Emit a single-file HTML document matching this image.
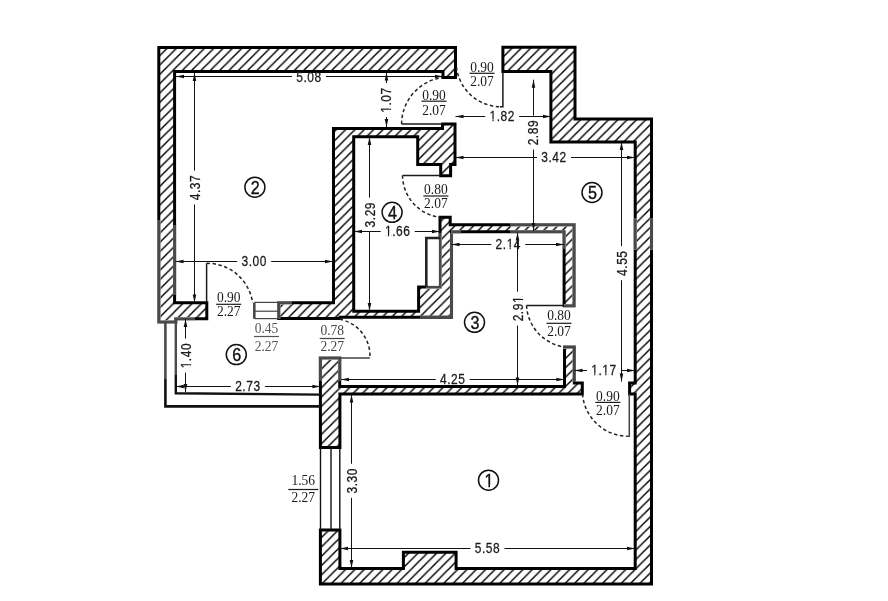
<!DOCTYPE html>
<html><head><meta charset="utf-8"><style>
html,body{margin:0;padding:0;background:#fff;width:888px;height:601px;overflow:hidden}
svg{display:block;will-change:transform}
</style></head><body>
<svg width="888" height="601" viewBox="0 0 888 601"><defs><pattern id="h0" patternUnits="userSpaceOnUse" x="0.6" y="0" width="9.34" height="9.34"><path d="M-2,2 L2,-2 M0,9.34 L9.34,0 M7.34,11.34 L11.34,7.34" stroke="#000" stroke-width="1.45"/></pattern><pattern id="h1" patternUnits="userSpaceOnUse" x="-0.27" y="0" width="9.34" height="9.34"><path d="M-2,2 L2,-2 M0,9.34 L9.34,0 M7.34,11.34 L11.34,7.34" stroke="#000" stroke-width="1.45"/></pattern><pattern id="h2" patternUnits="userSpaceOnUse" x="-1.1" y="0" width="9.34" height="9.34"><path d="M-2,2 L2,-2 M0,9.34 L9.34,0 M7.34,11.34 L11.34,7.34" stroke="#000" stroke-width="1.45"/></pattern><pattern id="h3" patternUnits="userSpaceOnUse" x="-0.7" y="0" width="9.34" height="9.34"><path d="M-2,2 L2,-2 M0,9.34 L9.34,0 M7.34,11.34 L11.34,7.34" stroke="#000" stroke-width="1.45"/></pattern></defs>
<path d="M158.8,47.5 L455.5,47.5 L455.5,77.5 L443,77.5 L443,71.5 L174.6,71.5 L174.6,302.8 L206.8,302.8 L206.8,318.7 L175.8,318.7 L175.8,322 L158.8,322 Z" fill="url(#h0)" stroke="#000" stroke-width="3.0" stroke-linejoin="miter"/>
<path d="M502.9,47.3 L575,47.3 L575,119 L651.5,119 L651.5,584 L320.4,584 L320.4,530 L339.9,530 L339.9,568.6 L403.4,568.6 L403.4,552.2 L456.1,552.2 L456.1,568.6 L635.2,568.6 L635.2,394 L629.6,394 L629.6,383 L635.2,383 L635.2,142 L550.9,142 L550.9,71.5 L502.9,71.5 Z" fill="url(#h1)" stroke="#000" stroke-width="3.0" stroke-linejoin="miter"/>
<path d="M278.7,302.8 L333.5,302.8 L333.5,128.4 L442.5,128.4 L442.5,124 L455,124 L455,164.5 L450.6,164.5 L450.6,175.8 L440.7,175.8 L440.7,164.5 L417.7,164.5 L417.7,136.7 L353.7,136.7 L353.7,311.3 L418.6,311.3 L418.6,287 L440,287 L440,217.2 L450.2,217.2 L450.2,224.8 L574.1,224.8 L574.1,305.7 L564.1,305.7 L564.1,231.8 L451.5,231.8 L451.5,317.3 L340,317.3 L340,318.4 L278.7,318.4 Z" fill="url(#h2)" stroke="#000" stroke-width="3.0" stroke-linejoin="miter"/>
<path d="M320.4,358 L339.7,358 L339.7,386.5 L564.5,386.5 L564.5,347 L574.3,347 L574.3,383 L582.3,383 L582.3,394 L339.9,394 L339.9,447.5 L320.4,447.5 Z" fill="url(#h3)" stroke="#000" stroke-width="3.0" stroke-linejoin="miter"/>
<path d="M158.8,220 L158.8,322 L175.8,322 L175.8,318.7 L195,318.7" fill="none" stroke="#fff" stroke-width="3.3" stroke-linecap="butt"/>
<path d="M158.8,220 L158.8,322 L175.8,322 L175.8,318.7 L195,318.7" fill="none" stroke="#4a4a4a" stroke-width="3.0999999999999996" stroke-linecap="butt"/>
<path d="M174.6,225 L174.6,295" fill="none" stroke="#fff" stroke-width="3.3" stroke-linecap="butt"/>
<path d="M174.6,225 L174.6,295" fill="none" stroke="#4a4a4a" stroke-width="3.0999999999999996" stroke-linecap="butt"/>
<path d="M635.2,218.6 L635.2,249.5" fill="none" stroke="#fff" stroke-width="3.3" stroke-linecap="butt"/>
<path d="M635.2,218.6 L635.2,249.5" fill="none" stroke="#4a4a4a" stroke-width="3.0999999999999996" stroke-linecap="butt"/>
<path d="M651.5,218.6 L651.5,249.5" fill="none" stroke="#fff" stroke-width="3.3" stroke-linecap="butt"/>
<path d="M651.5,218.6 L651.5,249.5" fill="none" stroke="#4a4a4a" stroke-width="3.0999999999999996" stroke-linecap="butt"/>
<path d="M440,233 L440,287 L426.3,287" fill="none" stroke="#fff" stroke-width="3.3" stroke-linecap="butt"/>
<path d="M440,233 L440,287 L426.3,287" fill="none" stroke="#4a4a4a" stroke-width="3.0999999999999996" stroke-linecap="butt"/>
<path d="M451.5,233 L451.5,317.4 L420,317.4" fill="none" stroke="#fff" stroke-width="3.3" stroke-linecap="butt"/>
<path d="M451.5,233 L451.5,317.4 L420,317.4" fill="none" stroke="#4a4a4a" stroke-width="3.0999999999999996" stroke-linecap="butt"/>
<path d="M510,224.8 L574.1,224.8 L574.1,305.7 L564.1,305.7" fill="none" stroke="#fff" stroke-width="3.3" stroke-linecap="butt"/>
<path d="M510,224.8 L574.1,224.8 L574.1,305.7 L564.1,305.7" fill="none" stroke="#4a4a4a" stroke-width="3.0999999999999996" stroke-linecap="butt"/>
<path d="M451.5,231.8 L461,231.8" fill="none" stroke="#fff" stroke-width="3.3" stroke-linecap="butt"/>
<path d="M451.5,231.8 L461,231.8" fill="none" stroke="#4a4a4a" stroke-width="3.0999999999999996" stroke-linecap="butt"/>
<path d="M510,231.8 L564.1,231.8 L564.1,249" fill="none" stroke="#fff" stroke-width="3.3" stroke-linecap="butt"/>
<path d="M510,231.8 L564.1,231.8 L564.1,249" fill="none" stroke="#4a4a4a" stroke-width="3.0999999999999996" stroke-linecap="butt"/>
<path d="M320.4,381 L320.4,358 L339.7,358 L339.7,381" fill="none" stroke="#fff" stroke-width="3.3" stroke-linecap="butt"/>
<path d="M320.4,381 L320.4,358 L339.7,358 L339.7,381" fill="none" stroke="#4a4a4a" stroke-width="3.0999999999999996" stroke-linecap="butt"/>
<path d="M563,347 L574.3,347 L574.3,382" fill="none" stroke="#fff" stroke-width="3.3" stroke-linecap="butt"/>
<path d="M563,347 L574.3,347 L574.3,382" fill="none" stroke="#444" stroke-width="3.0999999999999996" stroke-linecap="butt"/>
<path d="M278.7,318.4 L278.7,302.8 L292,302.8" fill="none" stroke="#fff" stroke-width="3.3" stroke-linecap="butt"/>
<path d="M278.7,318.4 L278.7,302.8 L292,302.8" fill="none" stroke="#4a4a4a" stroke-width="3.0999999999999996" stroke-linecap="butt"/>
<rect x="427.5" y="239.2" width="11.3" height="46.6" fill="#fff"/>
<path d="M426.3,287 L426.3,238 L440,238" fill="none" stroke="#222" stroke-width="2.6"/>
<path d="M165.4,379 L165.4,406.4 L320.4,406.4" fill="none" stroke="#111" stroke-width="2.6"/>
<path d="M175.8,375 L175.8,393.2 L320.4,394.6" fill="none" stroke="#111" stroke-width="2.4"/>
<path d="M165.4,322 L165.4,379" fill="none" stroke="#4a4a4a" stroke-width="2.6"/>
<path d="M175.8,318.7 L175.8,375" fill="none" stroke="#4a4a4a" stroke-width="2.4"/>
<line x1="254.3" y1="302.8" x2="254.3" y2="318.7" stroke="#4a4a4a" stroke-width="2.6"/>
<line x1="254.3" y1="302.4" x2="278.7" y2="302.4" stroke="#444" stroke-width="1.2"/>
<line x1="254.3" y1="311.2" x2="278.7" y2="311.2" stroke="#444" stroke-width="1.2"/>
<line x1="254.3" y1="318.6" x2="278.7" y2="318.6" stroke="#444" stroke-width="1.2"/>
<line x1="320.5" y1="447.5" x2="320.5" y2="530" stroke="#111" stroke-width="1.4"/>
<line x1="331" y1="447.5" x2="331" y2="530" stroke="#111" stroke-width="1.4"/>
<line x1="339.8" y1="447.5" x2="339.8" y2="530" stroke="#111" stroke-width="1.4"/>
<path d="M401.6,124 L443,124" fill="none" stroke="#1a1a1a" stroke-width="1.5"/>
<path d="M401.6,124 A47.11,47.11 0 0 1 443,77.5" fill="none" stroke="#222" stroke-width="1.5" stroke-dasharray="3.4,2.6"/>
<path d="M502.9,71.5 L502.9,106.7 L500,106.7" fill="none" stroke="#1a1a1a" stroke-width="1.5"/>
<path d="M456.5,67 A44.56,44.56 0 0 0 500,106.7" fill="none" stroke="#222" stroke-width="1.5" stroke-dasharray="3.4,2.6"/>
<path d="M402.5,175.4 L440.7,175.4" fill="none" stroke="#1a1a1a" stroke-width="1.5"/>
<path d="M402.5,175.4 A42.70,42.70 0 0 0 440.3,217.3" fill="none" stroke="#222" stroke-width="1.5" stroke-dasharray="3.4,2.6"/>
<path d="M206.6,263.3 L206.6,302.8" fill="none" stroke="#1a1a1a" stroke-width="1.5"/>
<path d="M206.6,263.3 A45.87,45.87 0 0 1 252.6,302.8" fill="none" stroke="#222" stroke-width="1.5" stroke-dasharray="3.4,2.6"/>
<path d="M526.5,305.5 L564.1,305.5" fill="none" stroke="#1a1a1a" stroke-width="1.5"/>
<path d="M526.5,305.5 A44.46,44.46 0 0 0 564.3,347" fill="none" stroke="#222" stroke-width="1.5" stroke-dasharray="3.4,2.6"/>
<path d="M629.3,394 L629.3,436.2 L626,436.2" fill="none" stroke="#444" stroke-width="1.5"/>
<path d="M582.5,394 A45.85,45.85 0 0 0 626,436.2" fill="none" stroke="#222" stroke-width="1.5" stroke-dasharray="3.4,2.6"/>
<path d="M339.7,358 L369.9,358" fill="none" stroke="#444" stroke-width="1.5"/>
<path d="M339.7,319.3 A37.14,37.14 0 0 1 369.9,358" fill="none" stroke="#222" stroke-width="1.5" stroke-dasharray="3.4,2.6"/>
<path d="M176,76.5 L292.0,76.5 M326.0,76.5 L443,76.5" stroke="#111" stroke-width="1" fill="none"/>
<path d="M176,76.5 L184,74.7 L184,78.3 Z" fill="#111"/>
<path d="M443,76.5 L435,74.7 L435,78.3 Z" fill="#111"/>
<g transform="translate(309,77.7) scale(0.92,1.07)"><text dy="0.32em" letter-spacing="0.6" text-anchor="middle" font-family='"Liberation Sans", sans-serif' font-size="13.0" fill="#1a1a1a" stroke="#1a1a1a" stroke-width="0.25">5.08</text></g>
<path d="M194.5,73 L194.5,170.5 M194.5,204.5 L194.5,302.5" stroke="#111" stroke-width="1" fill="none"/>
<path d="M194.5,73 L192.7,81 L196.3,81 Z" fill="#111"/>
<path d="M194.5,302.5 L192.7,294.5 L196.3,294.5 Z" fill="#111"/>
<g transform="translate(195.9,187.5) rotate(-90) scale(0.92,1.07)"><text dy="0.32em" letter-spacing="0.6" text-anchor="middle" font-family='"Liberation Sans", sans-serif' font-size="13.0" fill="#1a1a1a" stroke="#1a1a1a" stroke-width="0.25">4.37</text></g>
<path d="M386.5,72.5 L386.5,83.0 M386.5,117.0 L386.5,127" stroke="#111" stroke-width="1" fill="none"/>
<path d="M386.5,72.5 L384.7,80.5 L388.3,80.5 Z" fill="#111"/>
<path d="M386.5,127 L384.7,119 L388.3,119 Z" fill="#111"/>
<g transform="translate(386.5,100) rotate(-90) scale(0.92,1.07)"><text dy="0.32em" letter-spacing="0.6" text-anchor="middle" font-family='"Liberation Sans", sans-serif' font-size="13.0" fill="#1a1a1a" stroke="#1a1a1a" stroke-width="0.25">1.07</text><rect x="-13.22" y="2.30" width="2.57" height="3.61" fill="#fff"/><rect x="-9.37" y="2.30" width="2.50" height="3.61" fill="#fff"/></g>
<path d="M455.5,116.5 L485.2,116.5 M519.2,116.5 L551,116.5" stroke="#111" stroke-width="1" fill="none"/>
<path d="M455.5,116.5 L463.5,114.7 L463.5,118.3 Z" fill="#111"/>
<path d="M551,116.5 L543,114.7 L543,118.3 Z" fill="#111"/>
<g transform="translate(502.2,116.5) scale(0.92,1.07)"><text dy="0.32em" letter-spacing="0.6" text-anchor="middle" font-family='"Liberation Sans", sans-serif' font-size="13.0" fill="#1a1a1a" stroke="#1a1a1a" stroke-width="0.25">1.82</text><rect x="-13.22" y="2.30" width="2.57" height="3.61" fill="#fff"/><rect x="-9.37" y="2.30" width="2.50" height="3.61" fill="#fff"/></g>
<path d="M533.5,79.7 L533.5,115.6 M533.5,149.6 L533.5,231" stroke="#111" stroke-width="1" fill="none"/>
<path d="M533.5,79.7 L531.7,87.7 L535.3,87.7 Z" fill="#111"/>
<path d="M533.5,231 L531.7,223 L535.3,223 Z" fill="#111"/>
<g transform="translate(533.5,132.6) rotate(-90) scale(0.92,1.07)"><text dy="0.32em" letter-spacing="0.6" text-anchor="middle" font-family='"Liberation Sans", sans-serif' font-size="13.0" fill="#1a1a1a" stroke="#1a1a1a" stroke-width="0.25">2.89</text></g>
<path d="M455.5,157.5 L537.0,157.5 M571.0,157.5 L635,157.5" stroke="#111" stroke-width="1" fill="none"/>
<path d="M455.5,157.5 L463.5,155.7 L463.5,159.3 Z" fill="#111"/>
<path d="M635,157.5 L627,155.7 L627,159.3 Z" fill="#111"/>
<g transform="translate(554,157.5) scale(0.92,1.07)"><text dy="0.32em" letter-spacing="0.6" text-anchor="middle" font-family='"Liberation Sans", sans-serif' font-size="13.0" fill="#1a1a1a" stroke="#1a1a1a" stroke-width="0.25">3.42</text></g>
<path d="M369.5,137 L369.5,197.7 M369.5,231.7 L369.5,311" stroke="#111" stroke-width="1" fill="none"/>
<path d="M369.5,137 L367.7,145 L371.3,145 Z" fill="#111"/>
<path d="M369.5,311 L367.7,303 L371.3,303 Z" fill="#111"/>
<g transform="translate(370.5,214.7) rotate(-90) scale(0.92,1.07)"><text dy="0.32em" letter-spacing="0.6" text-anchor="middle" font-family='"Liberation Sans", sans-serif' font-size="13.0" fill="#1a1a1a" stroke="#1a1a1a" stroke-width="0.25">3.29</text></g>
<path d="M354,231.5 L380.7,231.5 M414.7,231.5 L440,231.5" stroke="#111" stroke-width="1" fill="none"/>
<path d="M354,231.5 L362,229.7 L362,233.3 Z" fill="#111"/>
<path d="M440,231.5 L432,229.7 L432,233.3 Z" fill="#111"/>
<g transform="translate(397.7,231.5) scale(0.92,1.07)"><text dy="0.32em" letter-spacing="0.6" text-anchor="middle" font-family='"Liberation Sans", sans-serif' font-size="13.0" fill="#1a1a1a" stroke="#1a1a1a" stroke-width="0.25">1.66</text><rect x="-13.22" y="2.30" width="2.57" height="3.61" fill="#fff"/><rect x="-9.37" y="2.30" width="2.50" height="3.61" fill="#fff"/></g>
<path d="M451.5,244.5 L491.3,244.5 M525.3,244.5 L564,244.5" stroke="#111" stroke-width="1" fill="none"/>
<path d="M451.5,244.5 L459.5,242.7 L459.5,246.3 Z" fill="#111"/>
<path d="M564,244.5 L556,242.7 L556,246.3 Z" fill="#111"/>
<g transform="translate(508.3,244.5) scale(0.92,1.07)"><text dy="0.32em" letter-spacing="0.6" text-anchor="middle" font-family='"Liberation Sans", sans-serif' font-size="13.0" fill="#1a1a1a" stroke="#1a1a1a" stroke-width="0.25">2.14</text><rect x="-1.17" y="2.30" width="2.57" height="3.61" fill="#fff"/><rect x="2.67" y="2.30" width="2.50" height="3.61" fill="#fff"/></g>
<path d="M517.5,232.5 L517.5,291.6 M517.5,325.6 L517.5,385.5" stroke="#111" stroke-width="1" fill="none"/>
<path d="M517.5,232.5 L515.7,240.5 L519.3,240.5 Z" fill="#111"/>
<path d="M517.5,385.5 L515.7,377.5 L519.3,377.5 Z" fill="#111"/>
<g transform="translate(518.5,308.6) rotate(-90) scale(0.92,1.07)"><text dy="0.32em" letter-spacing="0.6" text-anchor="middle" font-family='"Liberation Sans", sans-serif' font-size="13.0" fill="#1a1a1a" stroke="#1a1a1a" stroke-width="0.25">2.91</text><rect x="6.66" y="2.30" width="2.57" height="3.61" fill="#fff"/><rect x="10.50" y="2.30" width="2.50" height="3.61" fill="#fff"/></g>
<path d="M621.5,142 L621.5,246.2 M621.5,280.2 L621.5,381.6" stroke="#111" stroke-width="1" fill="none"/>
<path d="M621.5,142 L619.7,150 L623.3,150 Z" fill="#111"/>
<path d="M621.5,381.6 L619.7,373.6 L623.3,373.6 Z" fill="#111"/>
<g transform="translate(622.1,263.2) rotate(-90) scale(0.92,1.07)"><text dy="0.32em" letter-spacing="0.6" text-anchor="middle" font-family='"Liberation Sans", sans-serif' font-size="13.0" fill="#1a1a1a" stroke="#1a1a1a" stroke-width="0.25">4.55</text></g>
<path d="M175.5,261.5 L237.2,261.5 M271.2,261.5 L333,261.5" stroke="#111" stroke-width="1" fill="none"/>
<path d="M175.5,261.5 L183.5,259.7 L183.5,263.3 Z" fill="#111"/>
<path d="M333,261.5 L325,259.7 L325,263.3 Z" fill="#111"/>
<g transform="translate(254.2,261.5) scale(0.92,1.07)"><text dy="0.32em" letter-spacing="0.6" text-anchor="middle" font-family='"Liberation Sans", sans-serif' font-size="13.0" fill="#1a1a1a" stroke="#1a1a1a" stroke-width="0.25">3.00</text></g>
<path d="M341,379.5 L435.7,379.5 M469.7,379.5 L564.3,379.5" stroke="#111" stroke-width="1" fill="none"/>
<path d="M341,379.5 L349,377.7 L349,381.3 Z" fill="#111"/>
<path d="M564.3,379.5 L556.3,377.7 L556.3,381.3 Z" fill="#111"/>
<g transform="translate(452.7,379.5) scale(0.92,1.07)"><text dy="0.32em" letter-spacing="0.6" text-anchor="middle" font-family='"Liberation Sans", sans-serif' font-size="13.0" fill="#1a1a1a" stroke="#1a1a1a" stroke-width="0.25">4.25</text></g>
<path d="M574.5,370.5 L587.0,370.5 M621.0,370.5 L635,370.5" stroke="#111" stroke-width="1" fill="none"/>
<path d="M574.5,370.5 L582.5,368.7 L582.5,372.3 Z" fill="#111"/>
<path d="M635,370.5 L627,368.7 L627,372.3 Z" fill="#111"/>
<g transform="translate(604,370.5) scale(0.92,1.07)"><text dy="0.32em" letter-spacing="0.6" text-anchor="middle" font-family='"Liberation Sans", sans-serif' font-size="13.0" fill="#1a1a1a" stroke="#1a1a1a" stroke-width="0.25">1.17</text><rect x="-13.22" y="2.30" width="2.57" height="3.61" fill="#fff"/><rect x="-9.37" y="2.30" width="2.50" height="3.61" fill="#fff"/><rect x="-1.17" y="2.30" width="2.57" height="3.61" fill="#fff"/><rect x="2.67" y="2.30" width="2.50" height="3.61" fill="#fff"/></g>
<path d="M185.5,319 L185.5,338.6 M185.5,372.6 L185.5,392" stroke="#111" stroke-width="1" fill="none"/>
<path d="M185.5,319 L183.7,327 L187.3,327 Z" fill="#111"/>
<path d="M185.5,392 L183.7,384 L187.3,384 Z" fill="#111"/>
<g transform="translate(186.5,355.6) rotate(-90) scale(0.92,1.07)"><text dy="0.32em" letter-spacing="0.6" text-anchor="middle" font-family='"Liberation Sans", sans-serif' font-size="13.0" fill="#1a1a1a" stroke="#1a1a1a" stroke-width="0.25">1.40</text><rect x="-13.22" y="2.30" width="2.57" height="3.61" fill="#fff"/><rect x="-9.37" y="2.30" width="2.50" height="3.61" fill="#fff"/></g>
<path d="M175.8,386.5 L230.9,386.5 M264.9,386.5 L320.4,386.5" stroke="#111" stroke-width="1" fill="none"/>
<path d="M175.8,386.5 L183.8,384.7 L183.8,388.3 Z" fill="#111"/>
<path d="M320.4,386.5 L312.4,384.7 L312.4,388.3 Z" fill="#111"/>
<g transform="translate(247.9,386.5) scale(0.92,1.07)"><text dy="0.32em" letter-spacing="0.6" text-anchor="middle" font-family='"Liberation Sans", sans-serif' font-size="13.0" fill="#1a1a1a" stroke="#1a1a1a" stroke-width="0.25">2.73</text></g>
<path d="M351.5,394.5 L351.5,463.8 M351.5,497.8 L351.5,568" stroke="#111" stroke-width="1" fill="none"/>
<path d="M351.5,394.5 L349.7,402.5 L353.3,402.5 Z" fill="#111"/>
<path d="M351.5,568 L349.7,560 L353.3,560 Z" fill="#111"/>
<g transform="translate(352.5,480.8) rotate(-90) scale(0.92,1.07)"><text dy="0.32em" letter-spacing="0.6" text-anchor="middle" font-family='"Liberation Sans", sans-serif' font-size="13.0" fill="#1a1a1a" stroke="#1a1a1a" stroke-width="0.25">3.30</text></g>
<path d="M340,548.5 L470.5,548.5 M504.5,548.5 L635,548.5" stroke="#111" stroke-width="1" fill="none"/>
<path d="M340,548.5 L348,546.7 L348,550.3 Z" fill="#111"/>
<path d="M635,548.5 L627,546.7 L627,550.3 Z" fill="#111"/>
<g transform="translate(487.5,548.5) scale(0.92,1.07)"><text dy="0.32em" letter-spacing="0.6" text-anchor="middle" font-family='"Liberation Sans", sans-serif' font-size="13.0" fill="#1a1a1a" stroke="#1a1a1a" stroke-width="0.25">5.58</text></g>
<circle cx="488.5" cy="480.2" r="10" fill="none" stroke="#111" stroke-width="1.5"/>
<g transform="translate(488.9,480.4) scale(0.95,1.06)"><text dy="0.36em" text-anchor="middle" font-family='"Liberation Sans", sans-serif' font-size="17" fill="#111" stroke="#111" stroke-width="0.35">1</text><rect x="-3.90" y="4.12" width="3.36" height="3.55" fill="#fff"/><rect x="1.13" y="4.12" width="3.27" height="3.55" fill="#fff"/></g>
<circle cx="254.9" cy="187.2" r="10" fill="none" stroke="#111" stroke-width="1.5"/>
<g transform="translate(255.3,187.39999999999998) scale(0.95,1.06)"><text dy="0.36em" text-anchor="middle" font-family='"Liberation Sans", sans-serif' font-size="17" fill="#111" stroke="#111" stroke-width="0.35">2</text></g>
<circle cx="474.5" cy="322.3" r="10" fill="none" stroke="#111" stroke-width="1.5"/>
<g transform="translate(474.9,322.5) scale(0.95,1.06)"><text dy="0.36em" text-anchor="middle" font-family='"Liberation Sans", sans-serif' font-size="17" fill="#111" stroke="#111" stroke-width="0.35">3</text></g>
<circle cx="392.1" cy="212.3" r="10" fill="none" stroke="#111" stroke-width="1.5"/>
<g transform="translate(392.5,212.5) scale(0.95,1.06)"><text dy="0.36em" text-anchor="middle" font-family='"Liberation Sans", sans-serif' font-size="17" fill="#111" stroke="#111" stroke-width="0.35">4</text></g>
<circle cx="592" cy="192.5" r="10" fill="none" stroke="#111" stroke-width="1.5"/>
<g transform="translate(592.4,192.7) scale(0.95,1.06)"><text dy="0.36em" text-anchor="middle" font-family='"Liberation Sans", sans-serif' font-size="17" fill="#111" stroke="#111" stroke-width="0.35">5</text></g>
<circle cx="236.3" cy="354.6" r="10" fill="none" stroke="#111" stroke-width="1.5"/>
<g transform="translate(236.70000000000002,354.8) scale(0.95,1.06)"><text dy="0.36em" text-anchor="middle" font-family='"Liberation Sans", sans-serif' font-size="17" fill="#111" stroke="#111" stroke-width="0.35">6</text></g>
<text transform="translate(434,94.9) scale(1,1.08)" dy="0.34em" text-anchor="middle" font-family='"Liberation Serif", serif' font-size="13.5" fill="#1a1a1a">0.90</text>
<line x1="421.5" y1="101.2" x2="446.5" y2="101.2" stroke="#1a1a1a" stroke-width="1.2"/>
<text transform="translate(434,109.9) scale(1,1.08)" dy="0.34em" text-anchor="middle" font-family='"Liberation Serif", serif' font-size="13.5" fill="#1a1a1a">2.07</text>
<text transform="translate(482,67) scale(1,1.08)" dy="0.34em" text-anchor="middle" font-family='"Liberation Serif", serif' font-size="13.5" fill="#1a1a1a">0.90</text>
<line x1="469.5" y1="73.3" x2="494.5" y2="73.3" stroke="#1a1a1a" stroke-width="1.2"/>
<text transform="translate(482,81.2) scale(1,1.08)" dy="0.34em" text-anchor="middle" font-family='"Liberation Serif", serif' font-size="13.5" fill="#1a1a1a">2.07</text>
<text transform="translate(435.9,189.2) scale(1,1.08)" dy="0.34em" text-anchor="middle" font-family='"Liberation Serif", serif' font-size="13.5" fill="#1a1a1a">0.80</text>
<line x1="423.4" y1="196" x2="448.4" y2="196" stroke="#1a1a1a" stroke-width="1.2"/>
<text transform="translate(435.9,202.7) scale(1,1.08)" dy="0.34em" text-anchor="middle" font-family='"Liberation Serif", serif' font-size="13.5" fill="#1a1a1a">2.07</text>
<text transform="translate(228.7,296.7) scale(1,1.08)" dy="0.34em" text-anchor="middle" font-family='"Liberation Serif", serif' font-size="13.5" fill="#1a1a1a">0.90</text>
<line x1="216.2" y1="304.3" x2="241.2" y2="304.3" stroke="#1a1a1a" stroke-width="1.2"/>
<text transform="translate(228.7,311.3) scale(1,1.08)" dy="0.34em" text-anchor="middle" font-family='"Liberation Serif", serif' font-size="13.5" fill="#1a1a1a">2.27</text>
<text transform="translate(266.5,328.3) scale(1,1.08)" dy="0.34em" text-anchor="middle" font-family='"Liberation Serif", serif' font-size="13.5" fill="#555">0.45</text>
<line x1="254.0" y1="336.5" x2="279.0" y2="336.5" stroke="#555" stroke-width="1.2"/>
<text transform="translate(266.5,345.7) scale(1,1.08)" dy="0.34em" text-anchor="middle" font-family='"Liberation Serif", serif' font-size="13.5" fill="#555">2.27</text>
<text transform="translate(332.2,330.4) scale(1,1.08)" dy="0.34em" text-anchor="middle" font-family='"Liberation Serif", serif' font-size="13.5" fill="#444">0.78</text>
<line x1="319.7" y1="338.5" x2="344.7" y2="338.5" stroke="#444" stroke-width="1.2"/>
<text transform="translate(332.2,345.7) scale(1,1.08)" dy="0.34em" text-anchor="middle" font-family='"Liberation Serif", serif' font-size="13.5" fill="#444">2.27</text>
<text transform="translate(559,315.2) scale(1,1.08)" dy="0.34em" text-anchor="middle" font-family='"Liberation Serif", serif' font-size="13.5" fill="#1a1a1a">0.80</text>
<line x1="546.5" y1="323.3" x2="571.5" y2="323.3" stroke="#1a1a1a" stroke-width="1.2"/>
<text transform="translate(559,330.6) scale(1,1.08)" dy="0.34em" text-anchor="middle" font-family='"Liberation Serif", serif' font-size="13.5" fill="#1a1a1a">2.07</text>
<text transform="translate(607.9,395.6) scale(1,1.08)" dy="0.34em" text-anchor="middle" font-family='"Liberation Serif", serif' font-size="13.5" fill="#1a1a1a">0.90</text>
<line x1="595.4" y1="402.4" x2="620.4" y2="402.4" stroke="#1a1a1a" stroke-width="1.2"/>
<text transform="translate(607.9,410.1) scale(1,1.08)" dy="0.34em" text-anchor="middle" font-family='"Liberation Serif", serif' font-size="13.5" fill="#1a1a1a">2.07</text>
<text transform="translate(303.3,480.4) scale(1,1.08)" dy="0.34em" text-anchor="middle" font-family='"Liberation Serif", serif' font-size="13.5" fill="#1a1a1a">1.56</text>
<line x1="288.3" y1="489.5" x2="318.3" y2="489.5" stroke="#1a1a1a" stroke-width="1.2"/>
<text transform="translate(303.3,497) scale(1,1.08)" dy="0.34em" text-anchor="middle" font-family='"Liberation Serif", serif' font-size="13.5" fill="#1a1a1a">2.27</text></svg>
</body></html>
